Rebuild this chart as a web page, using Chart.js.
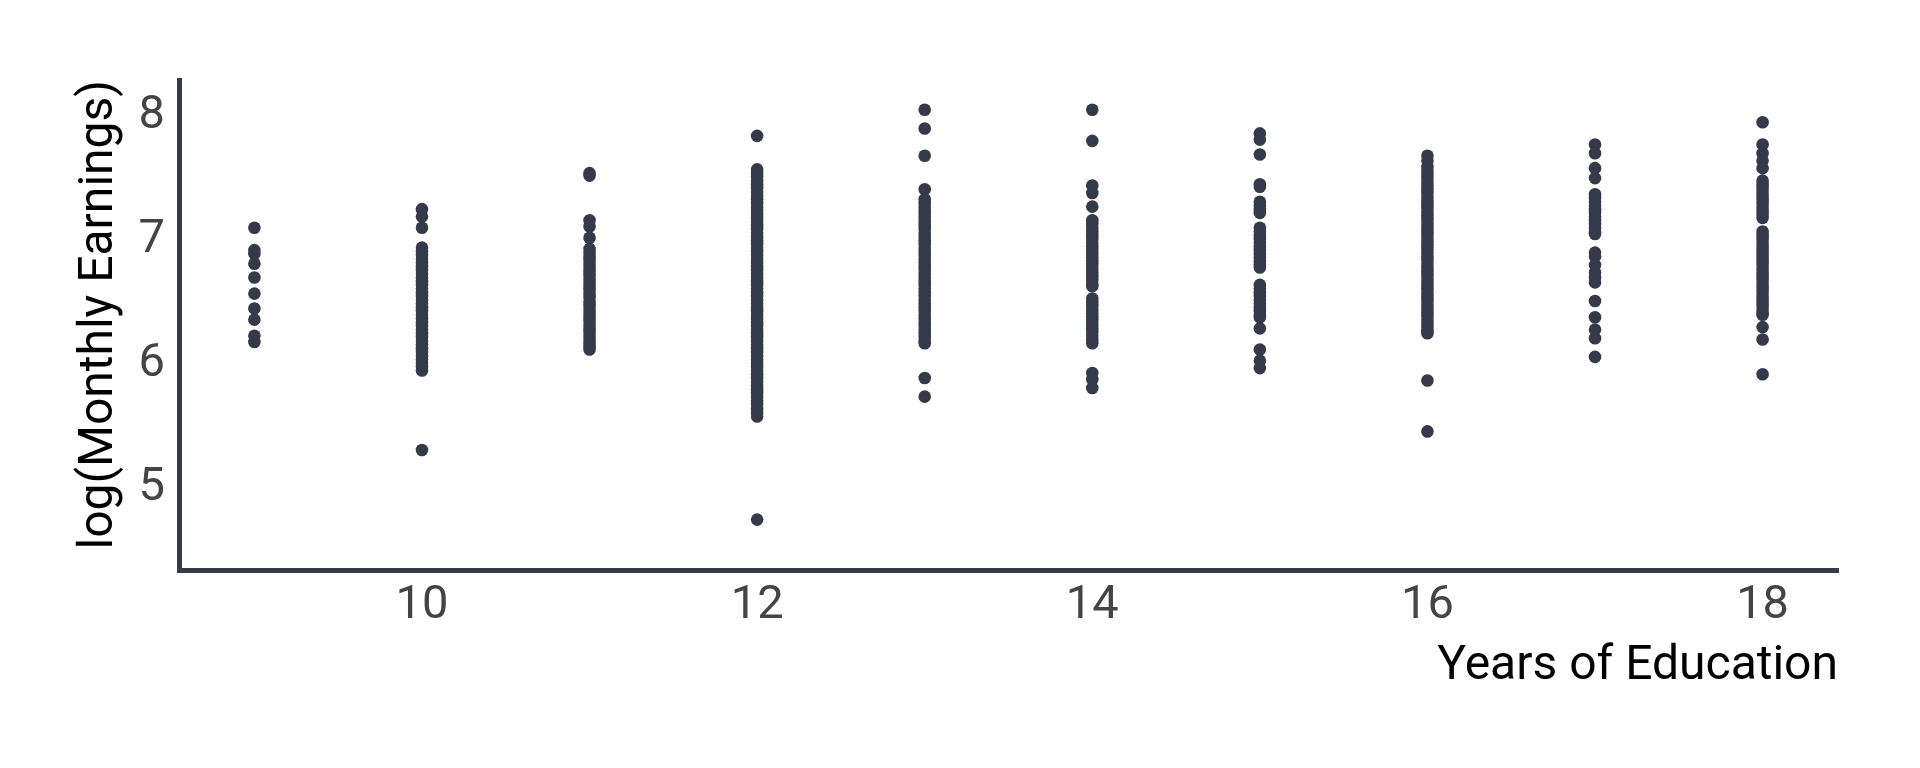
<!DOCTYPE html>
<html>
<head>
<meta charset="utf-8">
<script src="https://cdn.jsdelivr.net/npm/chart.js@4/dist/chart.umd.min.js"></script>
<style>
html,body{margin:0;padding:0;background:#fff;}
canvas{display:block;}
</style>
</head>
<body>
<canvas id="c" width="1920" height="768"></canvas>
<script>
// Years of education (x categories)
const educLevels = [9, 10, 11, 12, 13, 14, 15, 16, 17, 18];

// log(Monthly Earnings) read per education column
const lwage9 = [7.10, 6.92, 6.89, 6.81, 6.70, 6.57, 6.45, 6.36, 6.23, 6.18];
const lwage10 = [7.25, 7.19, 7.10, 6.94, 6.91, 6.88, 6.85, 6.82, 6.79, 6.76, 6.73, 6.70, 6.67, 6.64, 6.61, 6.58, 6.55, 6.52, 6.49, 6.46, 6.43, 6.40, 6.37, 6.34, 6.31, 6.28, 6.25, 6.22, 6.19, 6.16, 6.13, 6.10, 6.07, 6.04, 6.01, 5.98, 5.95, 5.31];
const lwage11 = [7.54, 7.52, 7.16, 7.11, 7.02, 6.93, 6.90, 6.87, 6.84, 6.81, 6.78, 6.75, 6.72, 6.69, 6.66, 6.63, 6.60, 6.57, 6.54, 6.50, 6.47, 6.44, 6.41, 6.38, 6.35, 6.32, 6.29, 6.26, 6.23, 6.20, 6.17, 6.14, 6.12];
const lwage12 = [7.84, 7.57, 7.54, 7.51, 7.48, 7.45, 7.42, 7.39, 7.36, 7.33, 7.30, 7.27, 7.24, 7.21, 7.18, 7.15, 7.12, 7.09, 7.06, 7.03, 7.00, 6.97, 6.94, 6.91, 6.88, 6.85, 6.82, 6.79, 6.76, 6.73, 6.70, 6.67, 6.64, 6.61, 6.58, 6.55, 6.52, 6.49, 6.46, 6.43, 6.40, 6.37, 6.34, 6.31, 6.28, 6.25, 6.22, 6.19, 6.16, 6.13, 6.10, 6.07, 6.04, 6.01, 5.98, 5.95, 5.92, 5.89, 5.86, 5.83, 5.80, 5.77, 5.74, 5.71, 5.68, 5.64, 5.61, 5.58, 4.75];
const lwage13 = [8.05, 7.90, 7.68, 7.41, 7.33, 7.30, 7.27, 7.24, 7.21, 7.18, 7.15, 7.12, 7.09, 7.06, 7.03, 7.00, 6.97, 6.94, 6.91, 6.88, 6.85, 6.82, 6.79, 6.76, 6.73, 6.70, 6.67, 6.64, 6.61, 6.58, 6.55, 6.52, 6.49, 6.46, 6.43, 6.40, 6.37, 6.34, 6.31, 6.28, 6.25, 6.22, 6.19, 6.17, 5.89, 5.74];
const lwage14 = [8.05, 7.80, 7.44, 7.38, 7.27, 7.16, 7.13, 7.10, 7.07, 7.04, 7.01, 6.98, 6.95, 6.92, 6.89, 6.86, 6.83, 6.80, 6.77, 6.74, 6.71, 6.68, 6.65, 6.63, 6.53, 6.50, 6.47, 6.44, 6.41, 6.38, 6.35, 6.32, 6.29, 6.26, 6.23, 6.20, 6.17, 5.93, 5.88, 5.81];
const lwage15 = [7.86, 7.81, 7.69, 7.45, 7.43, 7.31, 7.28, 7.25, 7.22, 7.10, 7.07, 7.04, 7.01, 6.98, 6.95, 6.92, 6.89, 6.86, 6.83, 6.80, 6.78, 6.64, 6.61, 6.58, 6.55, 6.52, 6.49, 6.46, 6.43, 6.40, 6.38, 6.29, 6.12, 6.03, 5.97];
const lwage16 = [7.68, 7.64, 7.59, 7.56, 7.53, 7.50, 7.47, 7.44, 7.41, 7.38, 7.35, 7.32, 7.29, 7.26, 7.23, 7.20, 7.17, 7.14, 7.11, 7.08, 7.05, 7.02, 6.99, 6.96, 6.93, 6.90, 6.87, 6.84, 6.81, 6.78, 6.75, 6.72, 6.69, 6.66, 6.63, 6.60, 6.57, 6.54, 6.51, 6.48, 6.45, 6.42, 6.39, 6.36, 6.33, 6.30, 6.27, 6.25, 5.87, 5.46];
const lwage17 = [7.77, 7.70, 7.58, 7.50, 7.37, 7.34, 7.31, 7.28, 7.25, 7.22, 7.19, 7.16, 7.13, 7.10, 7.07, 7.05, 6.90, 6.87, 6.80, 6.74, 6.70, 6.66, 6.51, 6.38, 6.28, 6.21, 6.06];
const lwage18 = [7.95, 7.77, 7.70, 7.64, 7.58, 7.48, 7.45, 7.42, 7.39, 7.36, 7.33, 7.30, 7.27, 7.24, 7.21, 7.18, 7.07, 7.04, 7.01, 6.98, 6.95, 6.92, 6.89, 6.86, 6.83, 6.80, 6.77, 6.74, 6.71, 6.68, 6.65, 6.62, 6.59, 6.56, 6.53, 6.50, 6.47, 6.44, 6.41, 6.40, 6.30, 6.20, 5.92];

// Tick labels
const xTickValues = [10, 12, 14, 16, 18];
const yTickValues = [5, 6, 7, 8];
const xTitleText = 'Years of Education';
const yTitleText = 'log(Monthly Earnings)';

const seriesByEduc = [lwage9, lwage10, lwage11, lwage12, lwage13, lwage14, lwage15, lwage16, lwage17, lwage18];
const points = [];
educLevels.forEach((e, i) => seriesByEduc[i].forEach(v => points.push({x: e, y: v})));

const inkColor = '#343a4a';
const fontFamily = 'Roboto, "Open Sans", sans-serif';

new Chart(document.getElementById('c').getContext('2d'), {
  type: 'scatter',
  data: {
    datasets: [{
      data: points,
      backgroundColor: inkColor,
      borderColor: inkColor,
      borderWidth: 0,
      pointRadius: 6.3,
      pointHoverRadius: 6.3
    }]
  },
  options: {
    responsive: false,
    animation: false,
    devicePixelRatio: 1,
    layout: { padding: { left: 0, top: 80, right: 82, bottom: 0 } },
    plugins: { legend: { display: false }, tooltip: { enabled: false } },
    scales: {
      x: {
        type: 'linear',
        min: 8.55,
        max: 18.45,
        afterBuildTicks: s => { s.ticks = xTickValues.map(v => ({ value: v })); },
        afterFit: s => { s.height = 197.5; },
        grid: { display: false, drawTicks: false, tickLength: 0 },
        border: { display: true, color: inkColor, width: 5 },
        ticks: { font: { family: fontFamily, size: 47 }, color: '#444', padding: 8, maxRotation: 0, autoSkip: false },
        title: { display: true, text: xTitleText, align: 'end', color: '#000',
                 font: { family: fontFamily, size: 48 }, padding: { top: 0, bottom: 72 } }
      },
      y: {
        type: 'linear',
        min: 4.34,
        max: 8.29,
        afterBuildTicks: s => { s.ticks = yTickValues.map(v => ({ value: v })); },
        afterFit: s => { s.width = 179; },
        grid: { display: false, drawTicks: false, tickLength: 0 },
        border: { display: true, color: inkColor, width: 5 },
        ticks: { font: { family: fontFamily, size: 47 }, color: '#444', padding: 14, autoSkip: false },
        title: { display: true, text: yTitleText, align: 'end', color: '#000',
                 font: { family: fontFamily, size: 48 }, padding: { top: 71, bottom: 0 } }
      }
    }
  }
});
</script>
</body>
</html>
